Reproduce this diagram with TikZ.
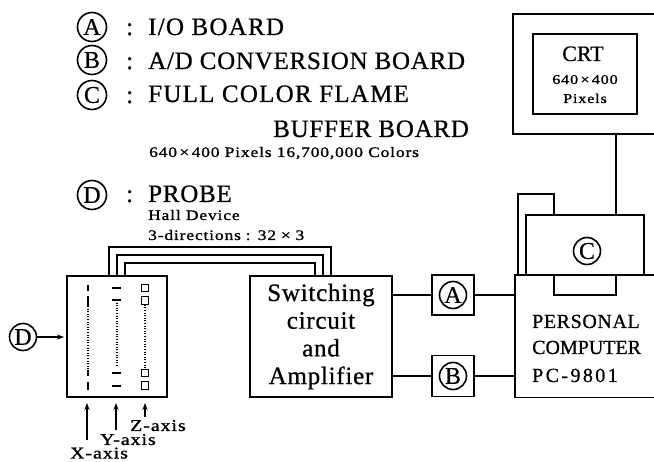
\documentclass[tikz,border=0pt]{standalone}
\usepackage{fontspec}
\setmainfont{Liberation Serif}
\usetikzlibrary{arrows.meta}
\newfontfamily\wideb[LetterSpace=3,FakeBold=0.7]{Liberation Serif}
\newfontfamily\wider[LetterSpace=5,FakeBold=0.7]{Liberation Serif}
\newfontfamily\tightb[FakeBold=0.7]{Liberation Serif}
\newfontfamily\pcb[LetterSpace=12,FakeBold=0.7]{Liberation Serif}
\newfontfamily\smallb[LetterSpace=6,FakeBold=1.2,FakeStretch=1.2]{Liberation Serif}
\newfontfamily\circb[FakeBold=0.6]{Liberation Serif}
\tikzset{
 ln/.style={line width=1.7pt,line join=miter},
 big/.style={inner sep=0,anchor=base west,font=\fontsize{25}{25}\selectfont\wideb},
 bigw/.style={inner sep=0,anchor=base west,font=\fontsize{25}{25}\selectfont\wider},
 mid/.style={inner sep=0,anchor=base west,font=\fontsize{20}{20}\selectfont\wideb},
 lab/.style={inner sep=0,anchor=base west,font=\fontsize{16.5}{16.5}\selectfont\smallb},
 sml/.style={inner sep=0,anchor=base west,font=\fontsize{14.5}{14.5}\selectfont\smallb},
 circ/.style={circle,draw,line width=1.6pt,minimum size=#1,inner sep=0,font=\fontsize{24}{24}\selectfont\circb},
 circ/.default=27pt,
 arr/.style={line width=1.1pt,-{Stealth[length=7pt,width=5pt]}},
 dot/.style={line width=1.1pt,dash pattern=on 1pt off 1.6pt},
 sq/.style={draw,line width=1.1pt,minimum size=7.5pt,inner sep=0},
 dsh/.style={line width=1.2pt},
}
\begin{document}
\begin{tikzpicture}[x=1pt,y=-1pt]
\useasboundingbox (0,0) rectangle (654,462);
% legend
\node[circ=29pt] (la) at (92,27) {A};
\node[circ=29pt] (lb) at (92,60) {B};
\node[circ=29pt] (lc) at (92,95) {C};
\node[circ=29pt] (ld) at (92,195) {D};
\node[big] (c1) at (126,35) {:};
\node[big] (c2) at (126,69) {:};
\node[big] (c3) at (126,103) {:};
\node[big] (c4) at (126,202) {:};
\node[bigw] (t1) at (148,35) {I/O BOARD};
\node[big] (t2) at (148,69) {A/D CONVERSION BOARD};
\node[bigw] (t3) at (148,102) {FULL COLOR FLAME};
\node[big] (t4) at (273,137) {BUFFER BOARD};
\node[sml] (t5) at (149,157) {640\,×\,400 Pixels 16,700,000 Colors};
\node[big] (t6) at (148,202) {PROBE};
\node[sml] (h1) at (148,220) {Hall Device};
\node[sml] (h2) at (148,240) {3-directions\,\,:\,\,\,32\,\,×\,\,3};
% probe
\node[draw,ln,minimum width=100pt,minimum height=121pt,inner sep=0] (probe) at (117,336.5) {};
\node[draw,ln,minimum width=142pt,minimum height=121pt,inner sep=0,align=center,font=\fontsize{25}{27.7}\selectfont\wideb] (sw) at (321,336.5) {Switching\\circuit\\and\\Amplifier};
\coordinate (p1) at (109,276);\coordinate (p2) at (117,276);\coordinate (p3) at (125,276);
\coordinate (s1) at (331,276);\coordinate (s2) at (323,276);\coordinate (s3) at (315,276);
\draw[ln] (p1) |- (s1 |- 0,247) -- (s1);
\draw[ln] (p2) |- (s2 |- 0,255) -- (s2);
\draw[ln] (p3) |- (s3 |- 0,263) -- (s3);
% elements
\draw[dsh] (88,285)--(88,291) (88,296)--(88,306) (88,370)--(88,376) (88,382)--(88,390);
\draw[dot] (88,306)--(88,370);
\draw[dsh] (112,288)--(121,288) (112,300)--(121,300) (112,373)--(121,373) (112,386)--(121,386);
\draw[dot] (117,300)--(117,367);
\node[sq] (q1) at (145,288) {};
\node[sq] (q2) at (145,300.5) {};
\node[sq] (q3) at (145,373) {};
\node[sq] (q4) at (145,385.5) {};
\draw[dot] (q2) -- (q3);
% axes
\node[lab] (zl) at (130,431) {Z-axis};
\node[lab] (yl) at (100,445) {Y-axis};
\node[lab] (xl) at (70,458.5) {X-axis};
\coordinate (xs) at (87,440);\coordinate (xe) at (87,403);
\coordinate (ys) at (116,430);\coordinate (ye) at (116,403);
\coordinate (zs) at (145,417);\coordinate (ze) at (145,403);
\draw[arr] (xs)--(xe);\draw[arr] (ys)--(ye);\draw[arr] (zs)--(ze);
% D
\node[circ] (cd) at (23,337) {D};
\draw[arr] (cd) -- (64,337);
% boards
\node[draw,ln,minimum width=42pt,minimum height=40pt,inner sep=0] (a) at (453,295) {};
\node[circ] (ca) at (a) {A};
\node[draw,ln,minimum width=42pt,minimum height=41pt,inner sep=0] (b) at (453,376) {};
\node[circ] (cb) at (b) {B};
% PC
\draw[ln] (654,275) -- (515,275) -- (515,397.5) -- (654,397.5);
\node[mid] (pc1) at (532,328) {PERSONAL};
\node[inner sep=0,anchor=base west,font=\fontsize{20}{20}\selectfont\tightb] (pc2) at (532,354) {COMPUTER};
\node[inner sep=0,anchor=base west,font=\fontsize{20}{20}\selectfont\pcb] (pc3) at (532,382) {PC-9801};
\draw[ln] (sw.east |- a) -- (a.west);
\draw[ln] (a.east) -- (515,295);
\draw[ln] (sw.east |- b) -- (b.west);
\draw[ln] (b.east) -- (515,376);
% C
\node[draw,ln,minimum width=118pt,minimum height=60pt,inner sep=0] (c) at (585,245) {};
\node[circ] (cc) at (587,251) {C};
\draw[ln] (518,275) |- (554,194) -- (554,215);
\draw[ln] (554,275) |- (616,295) -- (616,275);
% CRT
\draw[ln] (654,14) -- (513,14) -- (513,134) -- (654,134);
\node[draw,ln,minimum width=104pt,minimum height=80pt,inner sep=0] (crt) at (585,74) {};
\node[inner sep=0,anchor=base,font=\fontsize{22}{22}\selectfont\circb] (crt1) at (583,61) {CRT};
\node[inner sep=0,anchor=base,font=\fontsize{13.5}{13.5}\selectfont\smallb] (crt2) at (585,84) {640\,×\,400};
\node[inner sep=0,anchor=base,font=\fontsize{13.5}{13.5}\selectfont\smallb] (crt3) at (585,103) {Pixels};
\draw[ln] (616,134) -- (616,215);
\end{tikzpicture}
\end{document}
